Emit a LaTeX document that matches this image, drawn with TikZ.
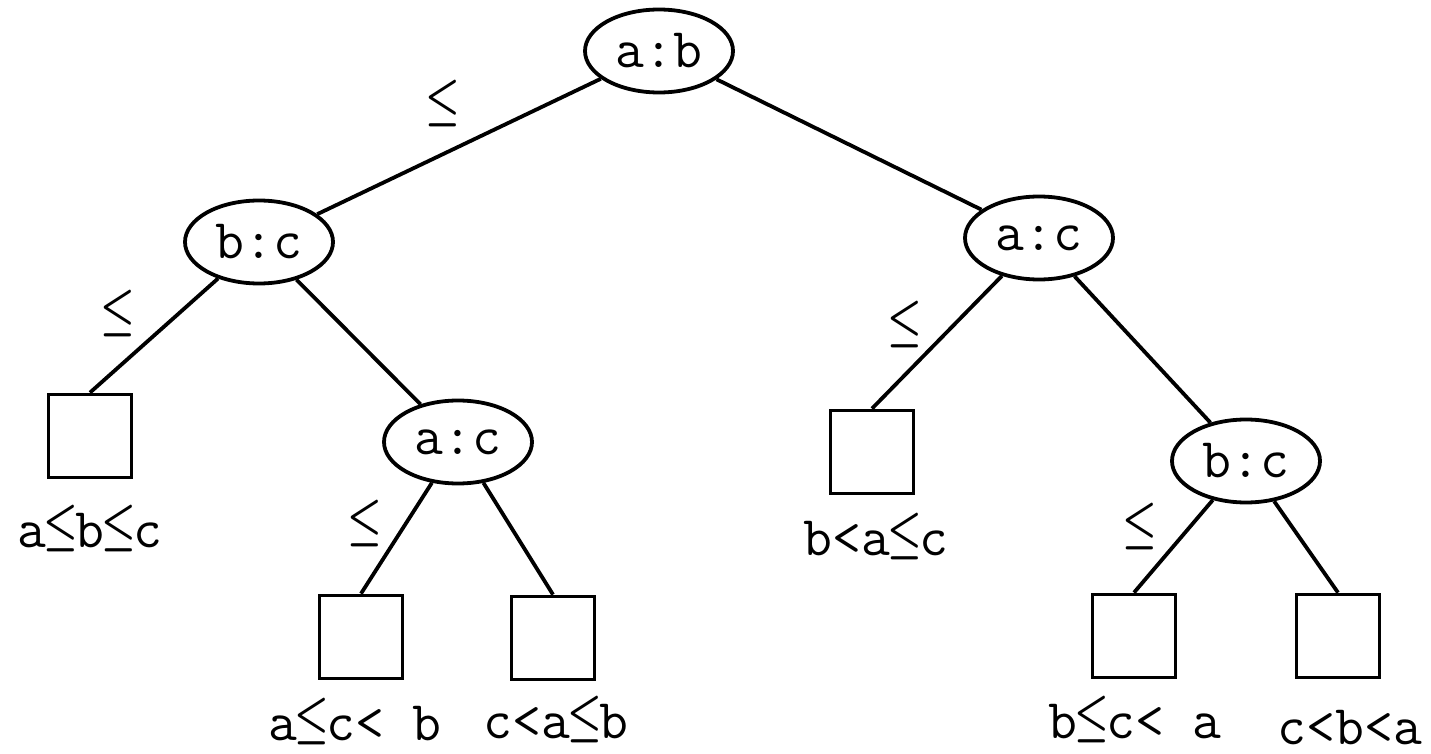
\documentclass[tikz,border=0pt]{standalone}
\usepackage{fontspec}
\usepackage{graphicx}
\usetikzlibrary{shapes.geometric}
% typewriter-width "less or equal" sign
\newcommand{\lee}{\makebox[0.525em]{\raisebox{2.8pt}{\scalebox{0.78}[1.05]{\boldmath$\leq$}}}}
\tikzset{
  cmp/.style={draw, ellipse, line width=1.9pt, minimum width=74pt, minimum height=41.5pt, inner sep=0pt, font=\ttfamily\fontsize{28}{32}\selectfont},
  leaf/.style={draw, rectangle, line width=1.9pt, minimum size=41.5pt, inner sep=0pt},
  perm/.style={anchor=base, inner sep=0pt, font=\ttfamily\fontsize{28}{32}\selectfont},
  le/.style={anchor=base, inner sep=0pt, font=\ttfamily\fontsize{28}{32}\selectfont},
  edge/.style={line width=1.9pt},
}
\begin{document}
\begin{tikzpicture}[x=0.5pt,y=-0.5pt]
\useasboundingbox (0,0) rectangle (1431,754);
% comparison nodes
\node[cmp] (ab) at (659,51) {a:b};
\node[cmp] (bcl) at (259,242) {b:c};
\node[cmp] (acr) at (1039,238) {a:c};
\node[cmp] (acm) at (458,442) {a:c};
\node[cmp] (bcr) at (1246,461) {b:c};
% leaves
\node[leaf] (l1) at (90,436) {};
\node[leaf] (l2) at (361,637) {};
\node[leaf] (l3) at (553,638) {};
\node[leaf] (l4) at (872,452) {};
\node[leaf] (l5) at (1134,636) {};
\node[leaf] (l6) at (1338,636) {};
% edges
\draw[edge] (ab) -- (bcl);
\draw[edge] (ab) -- (acr);
\draw[edge] (bcl) -- (l1.north);
\draw[edge] (bcl) -- (acm);
\draw[edge] (acm) -- (l2.north);
\draw[edge] (acm) -- (l3.north);
\draw[edge] (acr) -- (l4.north);
\draw[edge] (acr) -- (bcr);
\draw[edge] (bcr) -- (l5.north);
\draw[edge] (bcr) -- (l6.north);
% branch labels
\node[le] (e1) at (443,122) {\lee};
\node[le] (e2) at (118,332) {\lee};
\node[le] (e3) at (905,343) {\lee};
\node[le] (e4) at (365,542) {\lee};
\node[le] (e5) at (1140,545) {\lee};
% outcomes
\node[perm] (p1) at (90,547) {a\lee b\lee c};
\node[perm] (p2) at (355,740) {a\lee c< b};
\node[perm] (p3) at (556,738) {c<a\lee b};
\node[perm] (p4) at (876,555) {b<a\lee c};
\node[perm] (p5) at (1135,738) {b\lee c< a};
\node[perm] (p6) at (1350,744) {c<b<a};
\end{tikzpicture}
\end{document}
